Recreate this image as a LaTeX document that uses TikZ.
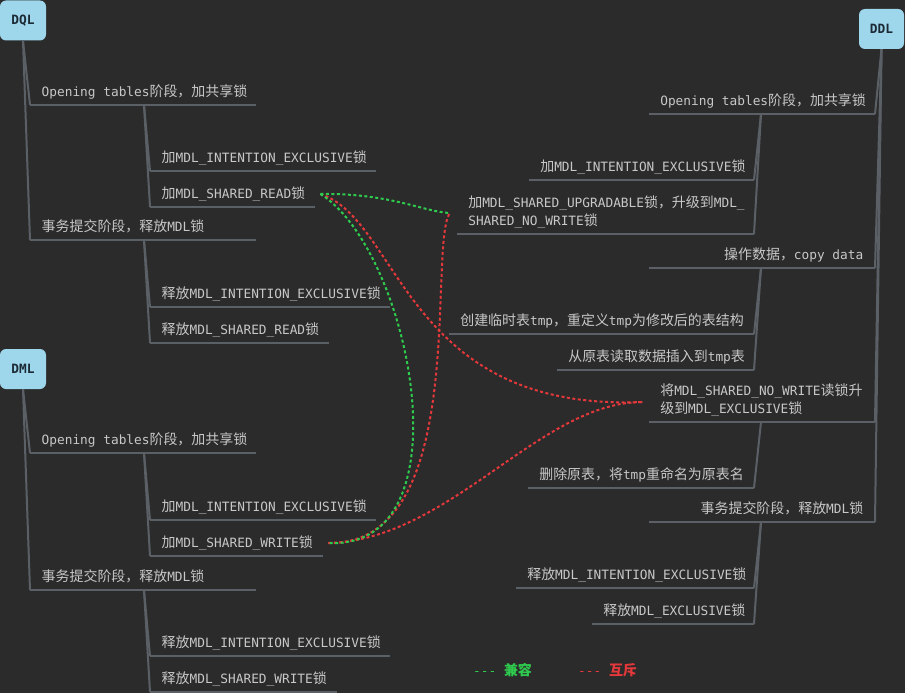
\documentclass[tikz,border=0pt]{standalone}
\usepackage{fontspec}
\setmainfont[WordSpace={1,0,0}]{DejaVu Sans Mono}
\newfontfamily\zhfont[Scale=1.09]{Noto Sans CJK SC}
\newcommand\zh[1]{{\zhfont #1}}
\newcommand\monogap{\hspace*{0.602em}}
\usetikzlibrary{calc}
\definecolor{canvas}{HTML}{2B2B2B}
\definecolor{stemgray}{HTML}{5A6066}
\definecolor{leaftext}{HTML}{C8C8C8}
\definecolor{topicfill}{HTML}{9ED6EC}
\definecolor{topicink}{HTML}{1C2A35}
\definecolor{okgreen}{HTML}{2FCB4E}
\definecolor{badred}{HTML}{E5383B}
\tikzset{
  topic/.style  ={rounded corners=6pt, fill=topicfill, text=topicink, font=\fontsize{12.8}{16}\selectfont\bfseries,
                  minimum width=46pt, minimum height=40pt, inner sep=0pt},
  stem/.style   ={draw=stemgray, line width=2pt},
  branch/.style ={text width=#1, inner xsep=11.5pt, inner ysep=5pt, text depth=3pt, text=leaftext,
                  font=\fontsize{12.8}{18}\selectfont,
                  append after command={(\tikzlastnode.south west) edge[stem] (\tikzlastnode.south east)}},
  lbranch/.style={branch=#1, align=left, anchor=south west},
  rbranch/.style={branch=#1, align=right, anchor=south east},
  twoline/.style={text depth=21pt},
  link/.style   ={line width=2pt, dash pattern=on 3pt off 2.5pt},
  legend/.style ={inner sep=0pt, anchor=west, font=\fontsize{12.8}{16}\selectfont},
}
\begin{document}
\begin{tikzpicture}[x=1pt, y=-1pt]
\useasboundingbox (0,0) rectangle (905,693);
\fill[canvas] (0,0) rectangle (905,693);
% DQL
\node[topic] (dql) at (23,20.5) {DQL};
\node[lbranch=203pt] (q1) at (30,105) {\mbox{Opening\monogap tables}\zh{阶段，加共享锁}};
\node[lbranch=203pt] (q11) at (150,171) {\zh{加}MDL\_INTENTION\_EXCLUSIVE\zh{锁}};
\node[lbranch=142pt] (q12) at (150,207) {\zh{加}MDL\_SHARED\_READ\zh{锁}};
\node[lbranch=203pt] (q2) at (30,240) {\zh{事务提交阶段，释放}MDL\zh{锁}};
\node[lbranch=217pt] (q21) at (150,307) {\zh{释放}MDL\_INTENTION\_EXCLUSIVE\zh{锁}};
\node[lbranch=156pt] (q22) at (150,343) {\zh{释放}MDL\_SHARED\_READ\zh{锁}};
\foreach \c in {q1,q2} { \draw[stem] (dql.south) -- (\c.south west); }
\foreach \c in {q11,q12} { \draw[stem] ($(q1.south west)+(114,0)$) -- (\c.south west); }
\foreach \c in {q21,q22} { \draw[stem] ($(q2.south west)+(114,0)$) -- (\c.south west); }
% DML
\node[topic] (dml) at (23,369) {DML};
\node[lbranch=203pt] (m1) at (30,453) {\mbox{Opening\monogap tables}\zh{阶段，加共享锁}};
\node[lbranch=203pt] (m11) at (150,520) {\zh{加}MDL\_INTENTION\_EXCLUSIVE\zh{锁}};
\node[lbranch=150pt] (m12) at (150,556) {\zh{加}MDL\_SHARED\_WRITE\zh{锁}};
\node[lbranch=203pt] (m2) at (30,590) {\zh{事务提交阶段，释放}MDL\zh{锁}};
\node[lbranch=217pt] (m21) at (150,656) {\zh{释放}MDL\_INTENTION\_EXCLUSIVE\zh{锁}};
\node[lbranch=164pt] (m22) at (150,692) {\zh{释放}MDL\_SHARED\_WRITE\zh{锁}};
\foreach \c in {m1,m2} { \draw[stem] (dml.south) -- (\c.south west); }
\foreach \c in {m11,m12} { \draw[stem] ($(m1.south west)+(114,0)$) -- (\c.south west); }
\foreach \c in {m21,m22} { \draw[stem] ($(m2.south west)+(114,0)$) -- (\c.south west); }
% DDL
\node[topic, minimum width=45pt] (ddl) at (881.5,29) {DDL};
\node[rbranch=203pt] (d1) at (875,114) {\mbox{Opening\monogap tables}\zh{阶段，加共享锁}};
\node[rbranch=202pt] (d11) at (754,180) {\zh{加}MDL\_INTENTION\_EXCLUSIVE\zh{锁}};
\node[lbranch=274pt, anchor=south east, twoline] (d12) at (754,234) {\zh{加}MDL\_SHARED\_UPGRADABLE\zh{锁，升级到}MDL\_\\SHARED\_NO\_WRITE\zh{锁}};
\node[rbranch=203pt] (d2) at (875,268) {\zh{操作数据，}\mbox{copy\monogap data}};
\node[rbranch=282pt] (d21) at (754,334) {\zh{创建临时表}tmp\zh{，重定义}tmp\zh{为修改后的表结构}};
\node[rbranch=174pt] (d22) at (754,370) {\zh{从原表读取数据插入到}tmp\zh{表}};
\node[lbranch=203pt, anchor=south east, twoline] (d3) at (875,422) {\zh{将}MDL\_SHARED\_NO\_WRITE\zh{读锁升}\\\zh{级到}MDL\_EXCLUSIVE\zh{锁}};
\node[rbranch=203pt] (d31) at (754,488) {\zh{删除原表，将}tmp\zh{重命名为原表名}};
\node[rbranch=203pt] (d4) at (875,522) {\zh{事务提交阶段，释放}MDL\zh{锁}};
\node[rbranch=215pt] (d41) at (754,588) {\zh{释放}MDL\_INTENTION\_EXCLUSIVE\zh{锁}};
\node[rbranch=139pt] (d42) at (754,624) {\zh{释放}MDL\_EXCLUSIVE\zh{锁}};
\foreach \c in {d1,d2,d3,d4} { \draw[stem] (ddl.south) -- (\c.south east); }
\foreach \c in {d11,d12} { \draw[stem] ($(d1.south east)+(-114,0)$) -- (\c.south east); }
\foreach \c in {d21,d22} { \draw[stem] ($(d2.south east)+(-114,0)$) -- (\c.south east); }
\draw[stem] ($(d3.south east)+(-114,0)$) -- (d31.south east);
\foreach \c in {d41,d42} { \draw[stem] ($(d4.south east)+(-114,0)$) -- (\c.south east); }
% lock relations
\draw[link, badred] ($(q12.south east)+(5,-13)$) .. controls +(80,26) and +(-238,10) .. ($(d3.south west)+(-6,-20)$);
\draw[link, badred] ($(m12.south east)+(5,-13)$) .. controls +(122,-3) and +(-103,0) .. ($(d3.south west)+(-6,-20)$);
\draw[link, badred] ($(m12.south east)+(5,-13)$) .. controls +(142,2) and +(-22,37) .. ($(d12.south west)+(-7,-21)$);
\draw[link, okgreen] ($(q12.south east)+(5,-13)$) .. controls +(90,56) and +(142,7) .. ($(m12.south east)+(5,-13)$);
\draw[link, okgreen] ($(q12.south east)+(5,-13)$) .. controls +(70,-1) and +(-25,-1) .. ($(d12.south west)+(-7,-21)$);
% legend
\node[legend, text=okgreen] (lgok) at (473,670) {-{}-{}-\monogap\zh{\bfseries 兼容}};
\node[legend, text=badred] (lgbad) at (578,670) {-{}-{}-\monogap\zh{\bfseries 互斥}};
\end{tikzpicture}
\end{document}
